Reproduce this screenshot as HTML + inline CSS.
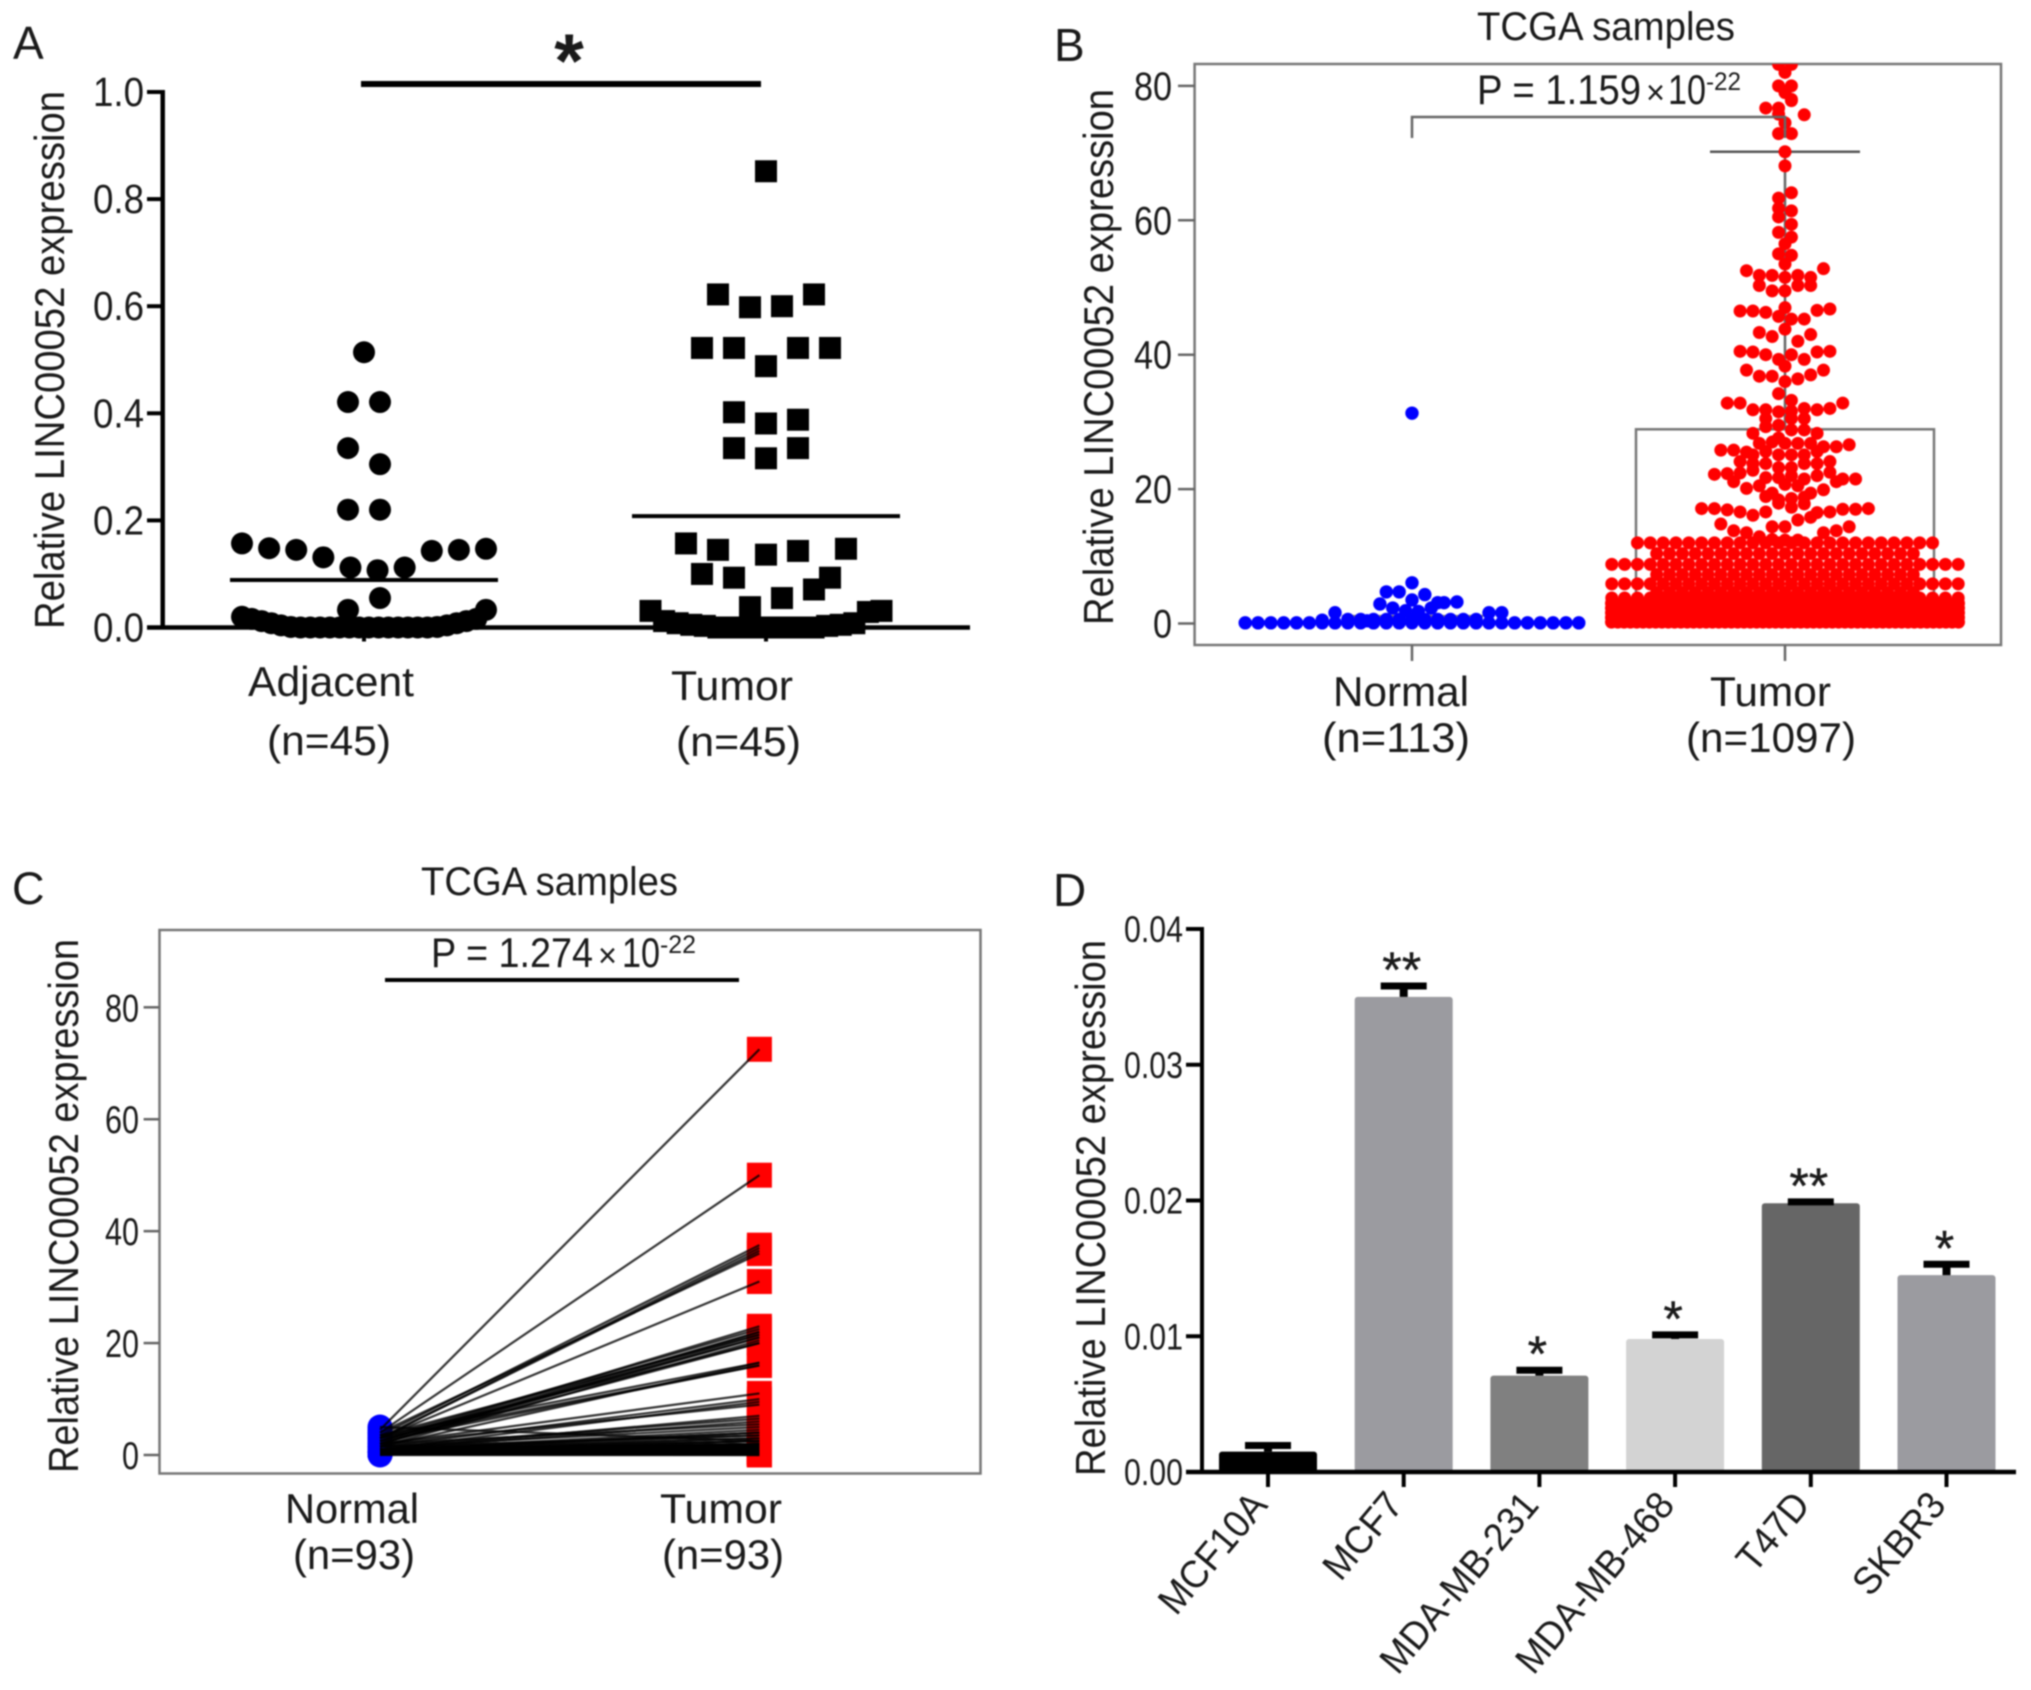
<!DOCTYPE html>
<html lang="en">
<head>
<meta charset="utf-8">
<title>LINC00052 expression panels</title>
<style>
html,body{margin:0;padding:0;background:#fff;width:2031px;height:1690px;overflow:hidden}
svg{display:block;filter:blur(0.7px)}
text{font-family:"Liberation Sans",Arial,sans-serif;fill:#1a1a1a}
</style>
</head>
<body>
<svg id="figure" xmlns="http://www.w3.org/2000/svg" width="2031" height="1690" viewBox="0 0 2031 1690">
  <rect x="0" y="0" width="2031" height="1690" fill="#fff"/>

  <g id="panelA">
    <text x="13" y="59" font-size="46">A</text>
    <text transform="translate(64,629) rotate(-90)" font-size="42" textLength="538" lengthAdjust="spacingAndGlyphs">Relative LINC00052 expression</text>
    <text x="248" y="696" font-size="42" textLength="166" lengthAdjust="spacingAndGlyphs">Adjacent</text>
    <text x="267" y="755" font-size="42" textLength="124" lengthAdjust="spacingAndGlyphs">(n=45)</text>
    <text x="671" y="700" font-size="42" textLength="122" lengthAdjust="spacingAndGlyphs">Tumor</text>
    <text x="676" y="756" font-size="42" textLength="125" lengthAdjust="spacingAndGlyphs">(n=45)</text>
    <rect x="361" y="81" width="400" height="6" fill="#000"/>
    <text x="569" y="87" font-size="76" font-weight="bold" text-anchor="middle">*</text>
  </g>

  <g id="panelB">
    <text x="1054" y="61" font-size="46">B</text>
    <text x="1477" y="40" font-size="40" textLength="258" lengthAdjust="spacingAndGlyphs">TCGA samples</text>
    <text transform="translate(1113,625) rotate(-90)" font-size="42" textLength="536" lengthAdjust="spacingAndGlyphs">Relative LINC00052 expression</text>
    <text x="1333" y="706" font-size="42" textLength="136" lengthAdjust="spacingAndGlyphs">Normal</text>
    <text x="1322" y="752" font-size="42" textLength="148" lengthAdjust="spacingAndGlyphs">(n=113)</text>
    <text x="1710" y="706" font-size="42" textLength="121" lengthAdjust="spacingAndGlyphs">Tumor</text>
    <text x="1686" y="752" font-size="42" textLength="170" lengthAdjust="spacingAndGlyphs">(n=1097)</text>
  </g>

  <g id="panelC">
    <text x="12" y="904" font-size="45">C</text>
    <text x="421" y="895" font-size="40" textLength="257" lengthAdjust="spacingAndGlyphs">TCGA samples</text>
    <text transform="translate(78,1473) rotate(-90)" font-size="42" textLength="534" lengthAdjust="spacingAndGlyphs">Relative LINC00052 expression</text>
    <text x="285" y="1523" font-size="42" textLength="134" lengthAdjust="spacingAndGlyphs">Normal</text>
    <text x="293" y="1569" font-size="42" textLength="122" lengthAdjust="spacingAndGlyphs">(n=93)</text>
    <text x="660" y="1523" font-size="42" textLength="122" lengthAdjust="spacingAndGlyphs">Tumor</text>
    <text x="662" y="1569" font-size="42" textLength="122" lengthAdjust="spacingAndGlyphs">(n=93)</text>
  </g>

  <g id="panelD">
    <text x="1053" y="906" font-size="46">D</text>
    <text transform="translate(1105,1476) rotate(-90)" font-size="42" textLength="536" lengthAdjust="spacingAndGlyphs">Relative LINC00052 expression</text>
  </g>
</svg>

<script>
/* ---------- Panel A data ---------- */
const aTicks = [0, 0.2, 0.4, 0.6, 0.8, 1.0];
const aCategories = ['Adjacent', 'Tumor'];
const aMeans = [0.0886, 0.208];
const aAdjacentGroups = [
  [0.514],
  [0.421, 0.421],
  [0.305, 0.335],
  [0.22, 0.22],
  [0.107, 0.112, 0.112, 0.131, 0.143, 0.145, 0.145, 0.148, 0.147, 0.157],
  [0.055, 0.033],
  [0, 0, 0, 0, 0, 0, 0, 0, 0, 0, 0, 0, 0, 0, 0.001, 0.001, 0.004, 0.004, 0.008, 0.008, 0.012, 0.012, 0.016, 0.016, 0.033, 0.02]
];
const aTumorGroups = [
  [0.852],
  [0.6, 0.598, 0.622, 0.622],
  [0.488, 0.522, 0.522, 0.522, 0.522],
  [0.381, 0.388, 0.402],
  [0.316, 0.335, 0.335],
  [0.136, 0.143, 0.093, 0.093, 0.1],
  [0.055, 0.038, 0.071, 0.145, 0.147, 0.157],
  [0, 0, 0, 0, 0, 0, 0, 0, 0.003, 0.003, 0.005, 0.005, 0.008, 0.008, 0.029, 0.012, 0.031, 0.031]
];

/* ---------- Panel B data ---------- */
const bTicks = [0, 20, 40, 60, 80];
const bCategories = ['Normal', 'Tumor'];
const bNormalMedian = 1.1;
const bTumorBoxTop = 28.9;
const bTumorBoxBottom = 1.0;
const bTumorWhiskerTop = 70.2;
const bNormalGroups = [
  [0.1, 0.1, 0.1, 0.1, 0.1, 0.1, 0.1, 0.1, 0.1, 0.1, 0.1, 0.1, 0.1, 0.1, 0.1, 0.1, 0.1, 0.1, 0.1, 0.1, 0.1, 0.1, 0.1, 0.1, 0.1, 0.1, 0.1],
  [0.6, 0.6, 0.6, 0.6, 0.6, 0.6, 0.6, 0.6, 0.6, 0.6, 0.6, 1.6, 1.6, 1.6, 0.5],
  [1.8, 1.9, 2.3, 2.3, 3.1, 2.9, 3.2, 0.4],
  [3.5, 4.3, 4.7, 3.1, 4.7],
  [6.06],
  [31.3]
];
const bTumorBandValues = [12.0, 10.4, 8.8, 7.3, 5.9, 4.6, 3.8, 3.0, 2.3, 1.6, 0.9, 0.2];
const bTumorBandCounts = [24, 21, 28, 21, 28, 21, 28, 35, 44, 51, 56, 56];
const bTumorGroups = [
  [12.4, 12.4, 12.5],
  [14.4, 15.4, 14.4, 15.8, 12.9, 13.5, 13.5, 13.8, 13.8, 14.4, 14.8],
  [17.3, 17.9, 17.8, 16.6, 16.5, 16.1, 16.6, 16.6, 17, 16.9, 17, 17.1, 17.1, 17.1],
  [18.6, 18.4, 18.8, 18.9],
  [20.7, 20.5, 19.4, 19.4, 20.5, 19.9, 20.1, 21.1, 21.1],
  [22, 21.7, 21.5, 21.7, 22, 22.8, 22.5, 22.4, 21.5, 22.3, 21.5, 22.2],
  [23.2, 23.2, 23.8, 23.8, 23.8, 23.8, 24.1, 24.1],
  [25.1, 25.1, 25.1, 25.6, 25.6, 25.1],
  [26.8, 26.8, 27, 26.8, 26.8, 26.3, 25.5, 26.3, 25.8, 26.6, 25.8],
  [28.8, 27.6, 28.8, 29.3, 28.3, 28.3],
  [30.5, 29.5, 30.5, 30.5],
  [31.6, 31.5, 32, 31.8, 31.8, 31.8, 32, 32.8, 32.8, 32.8],
  [33.2, 34.2],
  [36, 36.4, 36.8, 37, 36.8, 37.7, 37.7],
  [38.3],
  [40, 39.3, 39.3, 40, 40.4, 40.4, 40.5, 40.5],
  [43.8, 42, 42.7, 43, 43.3],
  [45.3, 45.7, 45.3, 46.3, 46.6, 46.5, 46.8, 46.5],
  [47],
  [49.5, 50.3, 49.5, 50.3, 50.3],
  [51.5, 51.8, 51.8, 51.5, 51.8, 52.8, 52.5],
  [53.5],
  [54.8, 55],
  [56.5],
  [57.5, 58.2],
  [59.4, 60.5],
  [61.4, 61.8],
  [64.1, 63.3],
  [68.1],
  [70.2],
  [72.9, 72.9],
  [74.5],
  [78, 76.7, 75.7, 76.7],
  [77.8, 75.8],
  [80, 80],
  [79],
  [82],
  [83.2, 83.2]
];

/* ---------- Panel C data ---------- */
const cTicks = [0, 20, 40, 60, 80];
const cNormalValues = [
  4.5,4,3.5,3,3,4,3,2.5,3,2.5,
  2,3.5,2,2.5,2,1.5,3,2,1.5,3.5,
  2.5,3,2,1.5,1,2,1,1.5,1,2,
  1.5,1,1,0.8,1.5,1,0.8,1,0.6,1,
  0.8,5,0.6,0.8,1,0.6,0.8,0.5,1,0.6,
  0.8,0.6,0.5,0.8,0.5,1,0.6,0.5,0.8,0.4,
  0.5,0.6,0.8,0.5,0.4,0.6,0.5,0.8,0.5,0.4,
  0.6,0.5,0.4,0.6,0.3,0.5,0.4,0.3,0.5,0.4,
  0.3,0.2,0.4,0.3,0.2,0.5,0.3,0.2,0.1,0.2,
  0.1,0,0.1
];
const cTumorValues = [
  72.5,50,37.5,37,36.5,36,31,23,22.5,22,
  22,21.5,21.5,21,21,20.5,20,20,16.5,16.5,
  16,16,11,10,9.5,9,7,6.5,6,5.5,
  5,4.5,4,4,3.5,3.5,3,3,2.5,2.5,
  2.5,2.5,2,2,2,2,2,1.8,1.8,1.8,
  1.5,1.5,1.5,1.5,1.5,1.2,1.2,1.2,1.2,1.2,
  1,1,1,1,1,1,1,1,0.8,0.8,
  0.8,0.8,0.8,0.8,0.8,0.6,0.6,0.6,0.6,0.6,
  0.5,0.5,0.5,0.5,0.4,0.4,0.3,0.3,0.2,0.2,
  0.1,0,0
];

/* ---------- Panel D data ---------- */
const dTicks = [0, 0.01, 0.02, 0.03, 0.04];
const dCategories = ['MCF10A', 'MCF7', 'MDA-MB-231', 'MDA-MB-468', 'T47D', 'SKBR3'];
const dValues = [0.0015, 0.035, 0.0071, 0.0098, 0.0198, 0.0145];
const dErrorTops = [0.00195, 0.0358, 0.0075, 0.0101, 0.0199, 0.0153];
const dStars = ['', '**', '*', '*', '**', '*'];
const dColors = ['#000000', '#9b9ba0', '#808080', '#d3d3d3', '#666666', '#9b9ba0'];

/* ---------- Helpers ---------- */
const NS = 'http://www.w3.org/2000/svg';
function add(parent, tag, attrs, name, content) {
  const el = document.createElementNS(NS, tag);
  for (const k in attrs) el.setAttribute(k, attrs[k]);
  
  
  if (content !== undefined) el.textContent = content;
  parent.appendChild(el);
  return el;
}
function line(parent, x1, y1, x2, y2, stroke, width, name) {
  return add(parent, 'line', {x1: x1, y1: y1, x2: x2, y2: y2, stroke: stroke, 'stroke-width': width}, name);
}
/* centre-out slot for the i-th of n points in a swarm row */
function slot(i, n) {
  if (n % 2) return i === 0 ? 0 : (i % 2 ? (i + 1) / 2 : -i / 2);
  return i % 2 === 0 ? i / 2 + 0.5 : -((i - 1) / 2 + 0.5);
}
function swarm(groups, xc, maxGap, span, draw) {
  groups.forEach(function (g) {
    const gap = g.length > 1 ? Math.min(maxGap, span / (g.length - 1)) : 0;
    g.forEach(function (v, i) { draw(xc + slot(i, g.length) * gap, v); });
  });
}

/* ---------- Panel A ---------- */
const pA = document.getElementById('panelA');
const aY = function (v) { return 627.5 - v * 535.5; };
const aX = function (i) { return 364 + i * 402; };
swarm(aAdjacentGroups, aX(0), 32, 244, function (x, v) {
  add(pA, 'ellipse', {cx: x, cy: aY(v), rx: 11, ry: 11, fill: '#000'}, 'adjacent-point');
});
swarm(aTumorGroups, aX(1), 32, 231, function (x, v) {
  add(pA, 'rect', {x: x - 11, y: aY(v) - 11, width: 22, height: 22, fill: '#000'}, 'tumor-point');
});
line(pA, 162.7, aY(1) - 2, 162.7, aY(0) + 2, '#000', 4.5, 'panel-a-y-axis');
line(pA, 147, aY(0), 970, aY(0), '#000', 4.5, 'panel-a-x-axis');
aTicks.forEach(function (t) {
  line(pA, 147, aY(t), 162, aY(t), '#000', 4, 'panel-a-y-tick');
  add(pA, 'text', {x: 144, y: aY(t) + 14, 'font-size': 41, 'text-anchor': 'end', textLength: 51, lengthAdjust: 'spacingAndGlyphs'}, 'panel-a-y-tick-label', t.toFixed(1));
});
aCategories.forEach(function (c, i) {
  line(pA, aX(i), aY(0), aX(i), aY(0) + 14, '#000', 4, 'panel-a-x-tick');
  line(pA, aX(i) - 134, aY(aMeans[i]), aX(i) + 134, aY(aMeans[i]), '#000', 4, 'panel-a-mean-line');
});

/* ---------- Panel B ---------- */
const pB = document.getElementById('panelB');
const bY = function (v) { return 623.5 - v * 6.72; };
const bX = function (i) { return 1412 + i * 373; };
const bClip = add(pB, 'clipPath', {id: 'bClip'}, 'panel-b-clip');
add(bClip, 'rect', {x: 1195, y: 64, width: 806, height: 581}, 'panel-b-clip-rect');
add(pB, 'rect', {x: 1194.6, y: 64, width: 806.4, height: 581, fill: 'none', stroke: '#777', 'stroke-width': 2.5}, 'panel-b-frame');
bTicks.forEach(function (t) {
  line(pB, 1178, bY(t), 1195, bY(t), '#666', 2.5, 'panel-b-y-tick');
  add(pB, 'text', {x: 1172, y: bY(t) + 14, 'font-size': 40, 'text-anchor': 'end', textLength: t === 0 ? 19 : 38, lengthAdjust: 'spacingAndGlyphs'}, 'panel-b-y-tick-label', String(t));
});
bCategories.forEach(function (c, i) {
  line(pB, bX(i), 645, bX(i), 661, '#666', 2.5, 'panel-b-x-tick');
});
add(pB, 'rect', {x: 1636, y: bY(bTumorBoxTop), width: 298, height: bY(bTumorBoxBottom) - bY(bTumorBoxTop), fill: 'none', stroke: '#777', 'stroke-width': 2.5}, 'tumor-box');
line(pB, bX(1), bY(bTumorBoxTop), bX(1), bY(bTumorWhiskerTop), '#666', 2.5, 'tumor-whisker');
line(pB, bX(1) - 75, bY(bTumorWhiskerTop), bX(1) + 75, bY(bTumorWhiskerTop), '#555', 2.5, 'tumor-whisker-cap');
line(pB, 1342, bY(bNormalMedian), 1483, bY(bNormalMedian), '#8a8470', 2.5, 'normal-median-line');
const bDots = add(pB, 'g', {'clip-path': 'url(#bClip)'}, 'panel-b-dots');
function redDot(x, v) {
  add(bDots, 'circle', {cx: x, cy: bY(v), r: 6.5, fill: '#ff0000'}, 'tumor-point');
}
bTumorBandValues.forEach(function (v, b) {
  const row = [];
  for (let k = 0; k < bTumorBandCounts[b]; k++) row.push(v);
  swarm([row], bX(1), 12.83, 347, redDot);
});
swarm(bTumorGroups, bX(1), 12.83, 347, redDot);
swarm(bNormalGroups, bX(0), 12.83, 334, function (x, v) {
  add(bDots, 'circle', {cx: x, cy: bY(v), r: 6.7, fill: '#0000ff'}, 'normal-point');
});
add(pB, 'polyline', {points: [bX(0), 138, bX(0), 117, bX(1), 117, bX(1), 138].join(','), fill: 'none', stroke: '#666', 'stroke-width': 2.5}, 'panel-b-significance-bracket');
add(pB, 'text', {x: 1477, y: 104, 'font-size': 42, textLength: 164, lengthAdjust: 'spacingAndGlyphs'}, 'panel-b-p-value', 'P = 1.159');
add(pB, 'text', {x: 1646, y: 104, 'font-size': 34, textLength: 19, lengthAdjust: 'spacingAndGlyphs'}, 'panel-b-p-times', '×');
add(pB, 'text', {x: 1668, y: 104, 'font-size': 42, textLength: 38, lengthAdjust: 'spacingAndGlyphs'}, 'panel-b-p-base', '10');
add(pB, 'text', {x: 1706, y: 90, 'font-size': 25, textLength: 35, lengthAdjust: 'spacingAndGlyphs'}, 'panel-b-p-exponent', '-22');

/* ---------- Panel C ---------- */
const pC = document.getElementById('panelC');
const cY = function (v) { return 1455 - v * 5.596; };
const cXNormal = 380, cXTumor = 759.4;
add(pC, 'rect', {x: 159.5, y: 930, width: 821, height: 551 - 7.5, fill: 'none', stroke: '#777', 'stroke-width': 2.5}, 'panel-c-frame');
cTicks.forEach(function (t) {
  line(pC, 143.6, cY(t), 159.5, cY(t), '#666', 2.5, 'panel-c-y-tick');
  add(pC, 'text', {x: 139, y: cY(t) + 14, 'font-size': 39, 'text-anchor': 'end', textLength: t === 0 ? 17 : 34, lengthAdjust: 'spacingAndGlyphs'}, 'panel-c-y-tick-label', String(t));
});
cNormalValues.forEach(function (v) {
  add(pC, 'circle', {cx: cXNormal, cy: cY(v), r: 12.5, fill: '#0000ff'}, 'normal-point');
});
cTumorValues.forEach(function (v) {
  add(pC, 'rect', {x: cXTumor - 12.5, y: cY(v) - 12.5, width: 25, height: 25, fill: '#ff0000'}, 'tumor-point');
});
cNormalValues.forEach(function (v, i) {
  add(pC, 'line', {x1: cXNormal, y1: cY(v), x2: cXTumor, y2: cY(cTumorValues[i]), stroke: '#000', 'stroke-width': 2.2, 'stroke-opacity': 0.8}, 'paired-sample-line');
});
line(pC, 385, 980, 739, 980, '#000', 4, 'panel-c-significance-bar');
add(pC, 'text', {x: 431, y: 967, 'font-size': 42, textLength: 162, lengthAdjust: 'spacingAndGlyphs'}, 'panel-c-p-value', 'P = 1.274');
add(pC, 'text', {x: 598, y: 967, 'font-size': 34, textLength: 19, lengthAdjust: 'spacingAndGlyphs'}, 'panel-c-p-times', '×');
add(pC, 'text', {x: 622, y: 967, 'font-size': 42, textLength: 38, lengthAdjust: 'spacingAndGlyphs'}, 'panel-c-p-base', '10');
add(pC, 'text', {x: 660, y: 953, 'font-size': 25, textLength: 36, lengthAdjust: 'spacingAndGlyphs'}, 'panel-c-p-exponent', '-22');

/* ---------- Panel D ---------- */
const pD = document.getElementById('panelD');
const dY = function (v) { return 1472 - v * 13575; };
const dX = function (i) { return 1268 + i * 135.7; };
dCategories.forEach(function (c, i) {
  add(pD, 'rect', {x: dX(i) - 49, y: dY(dValues[i]), width: 98, height: dY(0) - dY(dValues[i]), rx: 3, fill: dColors[i]}, 'bar-' + c.toLowerCase());
  line(pD, dX(i), dY(dValues[i]), dX(i), dY(dErrorTops[i]), '#000', 8, 'error-stem-' + c.toLowerCase());
  line(pD, dX(i) - 23, dY(dErrorTops[i]), dX(i) + 23, dY(dErrorTops[i]), '#000', 7, 'error-cap-' + c.toLowerCase());
  if (dStars[i]) {
    add(pD, 'text', {x: dX(i) - 2, y: dY(dErrorTops[i]) + 1, 'font-size': 50, 'text-anchor': 'middle', stroke: '#1a1a1a', 'stroke-width': 0.4}, 'significance-' + c.toLowerCase(), dStars[i]);
  }
  line(pD, dX(i), dY(0), dX(i), dY(0) + 15, '#000', 4, 'panel-d-x-tick');
  add(pD, 'text', {transform: 'translate(' + (dX(i) + 1) + ',1506) rotate(-50) scale(0.94,1)', 'font-size': 39, 'text-anchor': 'end'}, 'panel-d-x-label-' + c.toLowerCase(), c);
});
line(pD, 1202, 927, 1202, 1474, '#000', 4, 'panel-d-y-axis');
line(pD, 1186, dY(0), 2016, dY(0), '#000', 4.5, 'panel-d-x-axis');
dTicks.forEach(function (t) {
  line(pD, 1186, dY(t), 1201, dY(t), '#000', 4, 'panel-d-y-tick');
  add(pD, 'text', {x: 1183, y: dY(t) + 13, 'font-size': 37, 'text-anchor': 'end', textLength: 59, lengthAdjust: 'spacingAndGlyphs'}, 'panel-d-y-tick-label', t.toFixed(2));
});
</script>
</body>
</html>
